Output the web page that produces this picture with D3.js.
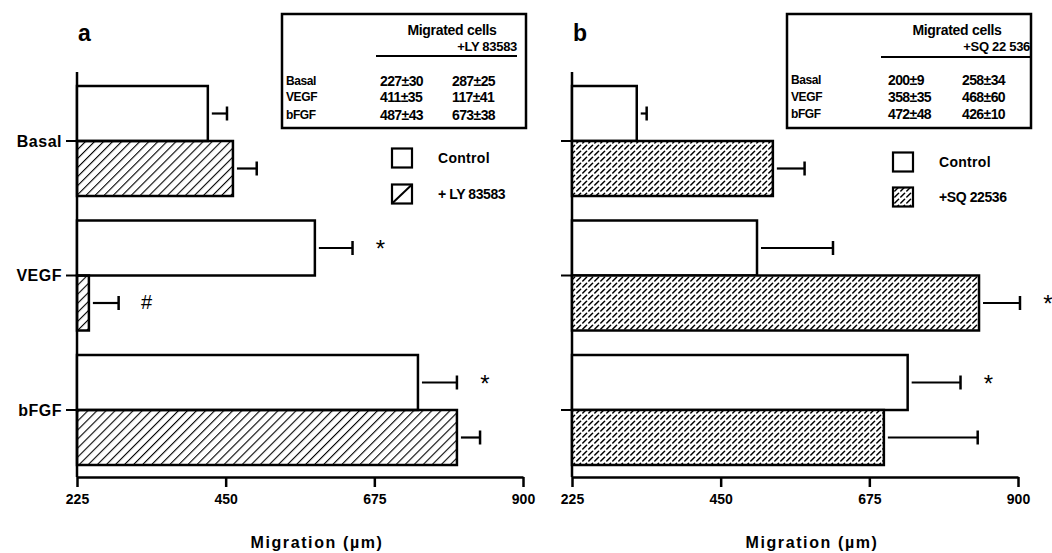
<!DOCTYPE html>
<html>
<head>
<meta charset="utf-8">
<script src="https://cdn.jsdelivr.net/npm/d3@7"></script>
<style>
  html, body { margin: 0; padding: 0; background: #fff; }
  svg { display: block; font-family: "Liberation Sans", Arial, sans-serif; }
</style>
</head>
<body>
<svg id="chart" width="1052" height="553"></svg>
<script>
// categories and values
const categories = ['Basal', 'VEGF', 'bFGF'];
const xTicks = [225, 450, 675, 900];

const ctrlA = [423, 585, 741];
const ctrlErrA = [29, 57, 59];
const lyA = [461, 243, 800];
const lyErrA = [36, 45, 35];

const ctrlB = [323, 505, 733];
const ctrlErrB = [15, 115, 80];
const sqB = [529, 841, 697];
const sqErrB = [48, 62, 142];

// significance marks: [category, series, symbol]
const marksA = [['VEGF', 0, '*'], ['VEGF', 1, '#'], ['bFGF', 0, '*']];
const marksB = [['VEGF', 1, '*'], ['bFGF', 0, '*']];

// inset tables
const tableRows = ['Basal', 'VEGF', 'bFGF'];
const tableA1 = ['227\u00b130', '411\u00b135', '487\u00b143'];
const tableA2 = ['287\u00b125', '117\u00b141', '673\u00b138'];
const tableB1 = ['200\u00b19', '358\u00b135', '472\u00b148'];
const tableB2 = ['258\u00b134', '468\u00b160', '426\u00b110'];

const svg = d3.select('#chart');
const defs = svg.append('defs');

defs.append('pattern')
    .attr('id', 'hatch')
    .attr('patternUnits', 'userSpaceOnUse')
    .attr('width', 6.4).attr('height', 10)
    .attr('patternTransform', 'rotate(45)')
    .append('line')
    .attr('x1', 0).attr('y1', 0).attr('x2', 0).attr('y2', 10)
    .attr('stroke', '#000').attr('stroke-width', 2.2);

const dense = defs.append('pattern')
    .attr('id', 'dense')
    .attr('patternUnits', 'userSpaceOnUse')
    .attr('width', 6).attr('height', 6);
dense.append('rect').attr('width', 6).attr('height', 6).attr('fill', '#fff');
dense.append('path')
    .attr('d', 'M0.8,5 L4.6,1.2')
    .attr('stroke', '#000').attr('stroke-width', 1.5)
    .attr('stroke-linecap', 'round');

function drawPanel(opt) {
    const x = d3.scaleLinear().domain([225, 900]).range([opt.x0, opt.x0 + 446]);
    const y = d3.scalePoint().domain(categories).range([141, 410]);
    const barH = 55;
    const axisY = 477;
    const g = svg.append('g');

    // y axis line + category ticks
    g.append('line')
        .attr('x1', x(225)).attr('x2', x(225))
        .attr('y1', 72).attr('y2', axisY)
        .attr('stroke', '#000').attr('stroke-width', 2.5);
    g.selectAll('.ytick').data(categories).enter().append('line')
        .attr('x1', x(225) - 11).attr('x2', x(225))
        .attr('y1', d => y(d)).attr('y2', d => y(d))
        .attr('stroke', '#000').attr('stroke-width', 2);
    g.selectAll('.ylab').data(categories).enter().append('text')
        .attr('x', x(225) - 15).attr('y', d => y(d))
        .attr('dy', '0.35em')
        .attr('text-anchor', 'end')
        .attr('font-size', 16).attr('font-weight', 'bold')
        .attr('letter-spacing', 0.5)
        .style('display', opt.showCats ? null : 'none')
        .text(d => d);

    // x axis
    const xAxis = d3.axisBottom(x).tickValues(xTicks).tickSize(10).tickSizeOuter(0).tickPadding(7);
    const ax = g.append('g').attr('transform', `translate(0,${axisY})`).call(xAxis);
    ax.select('.domain').attr('stroke-width', 2.5);
    ax.selectAll('.tick line').attr('stroke-width', 2.5);
    ax.selectAll('.tick text')
        .attr('font-size', 14).attr('font-weight', 'bold')
        .attr('font-family', '"Liberation Sans", Arial, sans-serif')
        .attr('fill', '#000');

    g.append('text')
        .attr('x', (x(225) + x(900)) / 2 + 17).attr('y', 548)
        .attr('text-anchor', 'middle')
        .attr('font-size', 16).attr('font-weight', 'bold')
        .attr('letter-spacing', 1.6)
        .text('Migration  (\u00b5m)');

    // bars
    const series = [
        { vals: opt.ctrl, errs: opt.ctrlErr, fill: '#fff', off: -barH },
        { vals: opt.trt, errs: opt.trtErr, fill: opt.fill, off: 0 },
    ];
    series.forEach((s, si) => {
        const rows = categories.map((c, i) => ({ c, v: s.vals[i], e: s.errs[i] }));
        g.selectAll(null).data(rows).enter().append('rect')
            .attr('x', x(225))
            .attr('y', d => y(d.c) + s.off)
            .attr('width', d => x(d.v) - x(225))
            .attr('height', barH)
            .attr('fill', s.fill)
            .attr('stroke', '#000').attr('stroke-width', 2.5);
        const cy = d => y(d.c) + s.off + barH / 2;
        g.selectAll(null).data(rows).enter().append('line')
            .attr('x1', d => x(d.v) + 4).attr('x2', d => x(d.v + d.e))
            .attr('y1', cy).attr('y2', cy)
            .attr('stroke', '#000').attr('stroke-width', 2.2);
        g.selectAll(null).data(rows).enter().append('line')
            .attr('x1', d => x(d.v + d.e)).attr('x2', d => x(d.v + d.e))
            .attr('y1', d => cy(d) - 7).attr('y2', d => cy(d) + 7)
            .attr('stroke', '#000').attr('stroke-width', 2.5);
    });

    // significance marks
    opt.marks.forEach(([c, si, sym]) => {
        const i = categories.indexOf(c);
        const s = series[si];
        g.append('text')
            .attr('x', x(s.vals[i] + s.errs[i]) + 28)
            .attr('y', y(c) + s.off + barH / 2 + (sym === '*' ? 9 : 6))
            .attr('text-anchor', 'middle')
            .attr('font-size', sym === '*' ? 24 : 20)
            .text(sym);
    });

    // panel letter
    g.append('text')
        .attr('x', x(225) + 1).attr('y', 41)
        .attr('font-size', 23).attr('font-weight', 'bold')
        .text(opt.letter);

    // inset table
    const tx = opt.boxX;
    const t = g.append('g').attr('font-weight', 'bold').attr('font-size', 13);
    t.append('rect')
        .attr('x', tx).attr('y', 14).attr('width', 244).attr('height', 114)
        .attr('fill', '#fff').attr('stroke', '#000').attr('stroke-width', 2.5);
    t.append('text').attr('x', tx + 170).attr('y', 35)
        .attr('text-anchor', 'middle').attr('font-size', 14).attr('letter-spacing', -0.3)
        .text('Migrated cells');
    t.append('text').attr('x', tx + opt.subEnd).attr('y', 51)
        .attr('text-anchor', 'end').attr('font-size', 13).attr('letter-spacing', -0.3)
        .text(opt.sub);
    t.append('line')
        .attr('x1', tx + 94).attr('x2', tx + opt.subEnd).attr('y1', opt.ruleY).attr('y2', opt.ruleY)
        .attr('stroke', '#000').attr('stroke-width', 2);
    const rowY = opt.rowY;
    t.selectAll(null).data(tableRows).enter().append('text')
        .attr('x', tx + 4).attr('y', (d, i) => rowY[i]).attr('dy', '0.35em')
        .attr('font-size', 12).attr('letter-spacing', -0.4)
        .text(d => d);
    t.selectAll(null).data(opt.col1).enter().append('text')
        .attr('x', tx + opt.c1).attr('y', (d, i) => rowY[i]).attr('dy', '0.35em')
        .attr('font-size', 14).attr('letter-spacing', -0.6)
        .text(d => d);
    t.selectAll(null).data(opt.col2).enter().append('text')
        .attr('x', tx + opt.c2).attr('y', (d, i) => rowY[i]).attr('dy', '0.35em')
        .attr('font-size', 14).attr('letter-spacing', -0.6)
        .text(d => d);

    // legend
    const lg = g.append('g');
    opt.legend.forEach((item, i) => {
        const ly = opt.legY[i];
        lg.append('rect')
            .attr('x', opt.legX).attr('y', ly - 9.5).attr('width', 20).attr('height', 19)
            .attr('fill', item.fill).attr('stroke', '#000').attr('stroke-width', 2.2);
        if (item.slash) {
            lg.append('line')
                .attr('x1', opt.legX).attr('y1', ly + 9.5)
                .attr('x2', opt.legX + 20).attr('y2', ly - 9.5)
                .attr('stroke', '#000').attr('stroke-width', 2);
        }
        lg.append('text')
            .attr('x', opt.legX + 46).attr('y', ly).attr('dy', '0.35em')
            .attr('font-size', 14).attr('font-weight', 'bold')
            .attr('letter-spacing', i === 0 ? 0.3 : -0.4)
            .text(item.label);
    });
}

drawPanel({
    letter: 'a', x0: 77, showCats: true,
    ctrl: ctrlA, ctrlErr: ctrlErrA, trt: lyA, trtErr: lyErrA, fill: 'url(#hatch)',
    marks: marksA,
    boxX: 282, sub: '+LY 83583', subEnd: 235, ruleY: 56, c1: 98, c2: 170,
    rowY: [81, 97, 115],
    col1: tableA1, col2: tableA2,
    legX: 392, legY: [158, 194],
    legend: [{ label: 'Control', fill: '#fff' }, { label: '+ LY 83583', fill: '#fff', slash: true }],
});

drawPanel({
    letter: 'b', x0: 572, showCats: false,
    ctrl: ctrlB, ctrlErr: ctrlErrB, trt: sqB, trtErr: sqErrB, fill: 'url(#dense)',
    marks: marksB,
    boxX: 787, sub: '+SQ 22 536', subEnd: 243, ruleY: 57, c1: 101, c2: 175,
    rowY: [80, 97, 114],
    col1: tableB1, col2: tableB2,
    legX: 893, legY: [162, 197],
    legend: [{ label: 'Control', fill: '#fff' }, { label: '+SQ 22536', fill: 'url(#dense)' }],
});
</script>
</body>
</html>
